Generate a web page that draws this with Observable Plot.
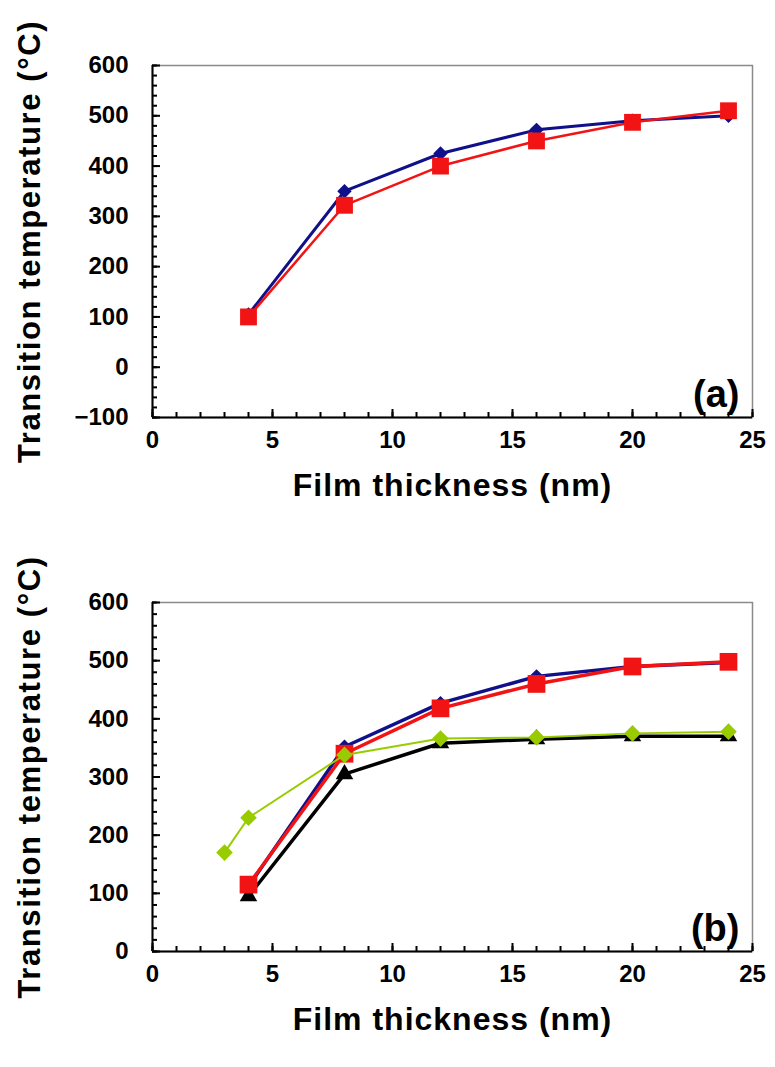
<!DOCTYPE html>
<html>
<head>
<meta charset="utf-8">
<script src="https://cdn.jsdelivr.net/npm/d3@7"></script>
<script src="https://cdn.jsdelivr.net/npm/@observablehq/plot@0.6"></script>
<style>
  html, body { margin: 0; padding: 0; background: #fff; }
  body { width: 775px; height: 1067px; position: relative; overflow: hidden; font-family: "Liberation Sans", Arial, sans-serif; }
  #a { position: absolute; left: 0; top: 0; }
  #b { position: absolute; left: 0; top: 530px; }
</style>
</head>
<body>
<div id="a"></div>
<div id="b"></div>
<script>
// ---- Data ----
const xLabel = "Film thickness (nm)";
const yLabel = "Transition temperature (°C)";
const xTicks = [0, 5, 10, 15, 20, 25];
const xMinor = d3.range(0, 26, 1);
const yTicksA = [-100, 0, 100, 200, 300, 400, 500, 600];
const yMinorA = d3.range(-100, 601, 20);
const yTicksB = [0, 100, 200, 300, 400, 500, 600];
const yMinorB = d3.range(0, 601, 20);

// Panel (a)
const aThickness = [4, 8, 12, 16, 20, 24];
const aBlue = [105, 350, 425, 472, 490, 500];
const aRed  = [100, 322, 400, 450, 487, 510];

// Panel (b)
const bThickness = [4, 8, 12, 16, 20, 24];
const bBlue  = [112, 352, 427, 473, 490, 497];
const bRed   = [115, 340, 418, 460, 490, 498];
const bBlack = [95, 305, 358, 365, 370, 370];
const gThickness = [3, 4, 8, 12, 16, 20, 24];
const bGreen = [170, 230, 338, 366, 368, 375, 378];

const NAVY = "#10108a", RED = "#f21414", BLACK = "#000000", GREEN = "#99cc00";

function series(xs, ys) { return xs.map((x, i) => ({x, y: ys[i]})); }

const W = 775, ML = 152, MR = 23;

function panel({height, marginTop, marginBottom, yDomain, yTicks, yMinor, layers, tag}) {
  const ph = height - marginTop - marginBottom;   // plot height in px
  const pw = W - ML - MR;                          // plot width in px
  const svg = Plot.plot({
    width: W, height,
    marginLeft: ML, marginRight: MR, marginTop, marginBottom,
    style: {fontFamily: "Liberation Sans, Arial, sans-serif", background: "#fff", overflow: "visible"},
    x: {domain: [0, 25], label: null},
    y: {domain: yDomain, label: null},
    marks: [
      Plot.frame({stroke: "#8a8a8a", strokeWidth: 1.5}),
      // inward ticks: rules spanning the frame, inset down to a few pixels
      Plot.ruleX(xMinor, {x: d => d, insetTop: ph - 5, stroke: "#000", strokeWidth: 2}),
      Plot.ruleX(xTicks, {x: d => d, insetTop: ph - 8, stroke: "#000", strokeWidth: 2}),
      Plot.ruleY(yMinor, {y: d => d, insetRight: pw - 5, stroke: "#000", strokeWidth: 2}),
      Plot.ruleY(yTicks, {y: d => d, insetRight: pw - 8, stroke: "#000", strokeWidth: 2}),
      Plot.ruleX([0], {stroke: "#000", strokeWidth: 2}),
      Plot.ruleY([yDomain[0]], {stroke: "#000", strokeWidth: 2}),
      // tick labels
      Plot.axisX({ticks: xTicks, tickSize: 0, tickPadding: 13, fontSize: 24, fontWeight: "bold", fill: "#000", label: null}),
      Plot.axisY({ticks: yTicks, tickSize: 0, tickPadding: 24, fontSize: 24, fontWeight: "bold", fill: "#000", label: null}),
      ...layers,
      Plot.text([tag], {frameAnchor: "bottom-right", textAnchor: "end", lineAnchor: "bottom", dx: -13, dy: -11, fontSize: 38, fontWeight: "bold", fill: "#000"}),
      Plot.text([xLabel], {frameAnchor: "bottom", textAnchor: "middle", dy: 78, fontSize: 32, fontWeight: "bold", fill: "#000"}),
      Plot.text([yLabel], {frameAnchor: "left", textAnchor: "middle", dx: -122, rotate: -90, fontSize: 31, fontWeight: "bold", fill: "#000"})
    ]
  });
  // widen the axis titles slightly, as in the original figure
  d3.select(svg).selectAll("text").each(function () {
    const t = this.textContent;
    if (t === xLabel) this.setAttribute("letter-spacing", "1px");
    if (t === yLabel) this.setAttribute("letter-spacing", "1.6px");
  });
  return svg;
}

function lineWithMarks(data, color, symbol, r, sw) {
  return [
    Plot.line(data, {x: "x", y: "y", stroke: color, strokeWidth: sw}),
    Plot.dot(data, {x: "x", y: "y", symbol, r, fill: color, stroke: "none"})
  ];
}

document.getElementById("a").append(panel({
  height: 530, marginTop: 65, marginBottom: 113,
  yDomain: [-100, 600], yTicks: yTicksA, yMinor: yMinorA, tag: "(a)",
  layers: [
    ...lineWithMarks(series(aThickness, aBlue), NAVY, "diamond2", 6.5, 3),
    ...lineWithMarks(series(aThickness, aRed), RED, "square", 9.5, 2.5)
  ]
}));

document.getElementById("b").append(panel({
  height: 537, marginTop: 72, marginBottom: 116,
  yDomain: [0, 600], yTicks: yTicksB, yMinor: yMinorB, tag: "(b)",
  layers: [
    ...lineWithMarks(series(bThickness, bBlue), NAVY, "diamond2", 6.5, 3.5),
    ...lineWithMarks(series(bThickness, bBlack), BLACK, "triangle", 6.5, 3.5),
    ...lineWithMarks(series(bThickness, bRed), RED, "square", 10, 3.5),
    ...lineWithMarks(series(gThickness, bGreen), GREEN, "diamond2", 7.5, 2)
  ]
}));
</script>
</body>
</html>
